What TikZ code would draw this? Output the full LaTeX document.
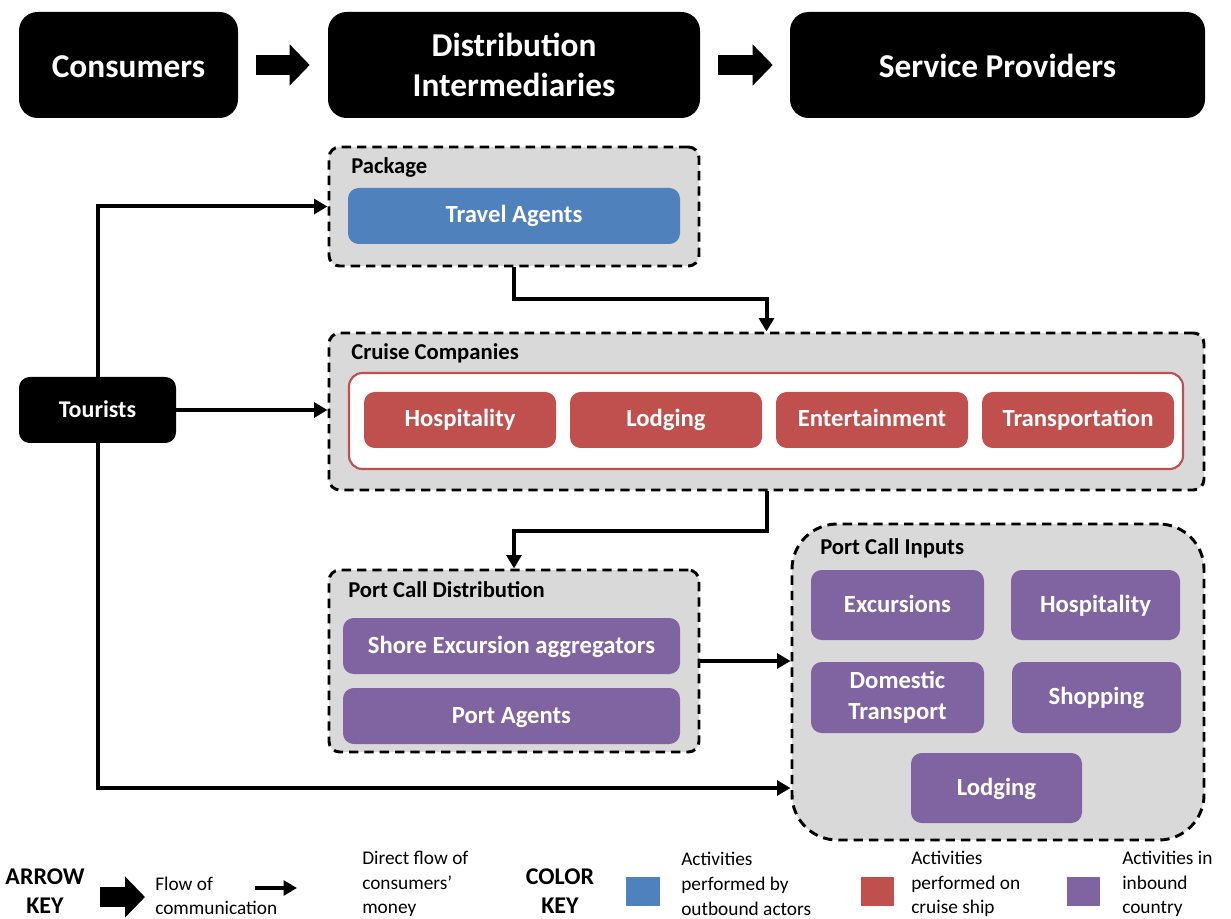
\documentclass[tikz,border=0pt]{standalone}
\usepackage{fontspec}
\setmainfont{Carlito}
\usetikzlibrary{arrows.meta,calc}
\definecolor{grpfill}{HTML}{D9D9D9}
\definecolor{cblue}{HTML}{4F81BD}
\definecolor{cred}{HTML}{C0504D}
\definecolor{cpurple}{HTML}{8064A2}
\begin{document}
\begin{tikzpicture}[x=0.75pt,y=-0.75pt,
  spanbox/.style n args={4}{at={({(#1+#3)/2},{(#2+#4)/2})},
    minimum width={(#3-#1)*0.75pt},minimum height={(#4-#2)*0.75pt},inner sep=0pt},
  hone/.style={text height=20.8pt,text depth=2pt},
  one/.style={text height=13.5pt,text depth=3pt},
  hdr/.style={fill=black,text=white,rounded corners=14pt,align=center,
    font=\bfseries\fontsize{25}{30}\selectfont},
  grp/.style={fill=grpfill,draw=black,line width=2.2pt,dash pattern=on 7pt off 4.5pt,rounded corners=8pt},
  glabel/.style={anchor=west,inner sep=0pt,font=\bfseries\fontsize{17}{20}\selectfont},
  ibox/.style={rounded corners=8pt,text=white,align=center,
    font=\bfseries\fontsize{18.5}{23}\selectfont},
  bbox/.style={ibox,fill=cblue},
  rbox/.style={ibox,fill=cred},
  pbox/.style={ibox,fill=cpurple},
  blk/.style={line width=15pt,-{Triangle[length=15pt,width=30pt]}},
  flow/.style={line width=3pt,-{Triangle[length=10pt,width=11pt]}},
  keytxt/.style={anchor=west,inner sep=0pt,align=left,font=\fontsize{14.5}{18.5}\selectfont},
  keyhdr/.style={inner sep=0pt,align=center,font=\bfseries\fontsize{18}{22}\selectfont},
]
\useasboundingbox (0,0) rectangle (1231,919);

% header row
\node[hdr,hone,spanbox={19}{12}{238}{118}] (cons) {Consumers};
\node[hdr,spanbox={328}{12}{700}{118}] (dist) {Distribution\\Intermediaries};
\node[hdr,hone,spanbox={790}{12}{1205}{118}] (serv) {Service Providers};
\draw[blk,shorten <=13.5pt,shorten >=13.5pt] (cons.east) -- (dist.west);
\draw[blk,shorten <=13.5pt,shorten >=12.75pt] (dist.east) -- (serv.west);

% Package
\node[grp,spanbox={329}{147}{699}{266}] (pkg) {};
\node[glabel] (pkgl) at (351,167) {Package};
\node[bbox,one,spanbox={348}{188}{680}{244}] (ta) {Travel Agents};

% Cruise companies
\node[grp,spanbox={329}{333}{1204}{490}] (cruise) {};
\node[glabel] (cruisel) at (351,353) {Cruise Companies};
\node[fill=white,draw=cred,line width=1.6pt,rounded corners=10pt,spanbox={349}{373}{1183}{469}] (ship) {};
\node[rbox,one,spanbox={364}{392}{556}{448}] (chosp) {Hospitality};
\node[rbox,one,spanbox={570}{392}{762}{448}] (clodg) {Lodging};
\node[rbox,one,spanbox={776}{392}{968}{448}] (cent) {Entertainment};
\node[rbox,one,spanbox={982}{392}{1174}{448}] (ctrans) {Transportation};

% Port call distribution
\node[grp,spanbox={329}{570}{699}{752}] (pcd) {};
\node[glabel] (pcdl) at (348,590) {Port Call Distribution};
\node[pbox,one,spanbox={343}{618}{680}{674}] (shore) {Shore Excursion aggregators};
\node[pbox,one,spanbox={343}{688}{680}{744}] (pagents) {Port Agents};

% Port call inputs
\node[grp,rounded corners=34pt,spanbox={792}{524}{1204}{840}] (pci) {};
\node[glabel] (pcil) at (820,548) {Port Call Inputs};
\node[pbox,one,spanbox={811}{570}{984}{640}] (pexc) {Excursions};
\node[pbox,one,spanbox={1011}{570}{1180}{640}] (phosp) {Hospitality};
\node[pbox,spanbox={811}{662}{984}{733}] (pdom) {Domestic\\Transport};
\node[pbox,one,spanbox={1012}{662}{1181}{733}] (pshop) {Shopping};
\node[pbox,one,spanbox={911}{753}{1082}{823}] (plodg) {Lodging};

% Tourists
\node[fill=black,text=white,rounded corners=8pt,text height=13pt,text depth=1pt,spanbox={19}{377}{176}{443},
  font=\bfseries\fontsize{18}{22}\selectfont] (tour) {Tourists};

% money flows
\draw[flow] (tour.north) |- (pkg.west);
\draw[flow] (tour.east) -- (tour.east -| cruise.west);
\draw[flow] (tour.south) |- (pci.west |- plodg);
\draw[flow] (pkg.south) -- ++(0,32) -| (cruise.north);
\draw[flow] (cruise.south) -- ++(0,40) -| (pcd.north);
\draw[flow] (pcd.east) -- (pcd.east -| pci.west);

% Keys
\node[keyhdr] (akey) at (45,891) {ARROW\\KEY};
\coordinate (ka1) at (100,897);
\coordinate (ka2) at (145,897);
\draw[blk] (ka1) -- (ka2);
\node[keytxt] (kt1) at (155,896) {Flow of\\communication};
\coordinate (kb1) at (255,888);
\coordinate (kb2) at (297,888);
\draw[flow] (kb1) -- (kb2);
\node[keytxt] (kt2) at (362,884) {Direct flow of\\consumers’\\money};
\node[keyhdr] (ckey) at (560,891) {COLOR\\KEY};
\node[fill=cblue,spanbox={626}{877}{660}{906}] (sqb) {};
\node[keytxt] (kt3) at (681,884) {Activities\\performed by\\outbound actors};
\node[fill=cred,spanbox={861}{877}{894}{906}] (sqr) {};
\node[keytxt] (kt4) at (911,884) {Activities\\performed on\\cruise ship};
\node[fill=cpurple,spanbox={1067}{877}{1100}{906}] (sqp) {};
\node[keytxt] (kt5) at (1122,884) {Activities in\\inbound\\country};
\end{tikzpicture}
\end{document}
